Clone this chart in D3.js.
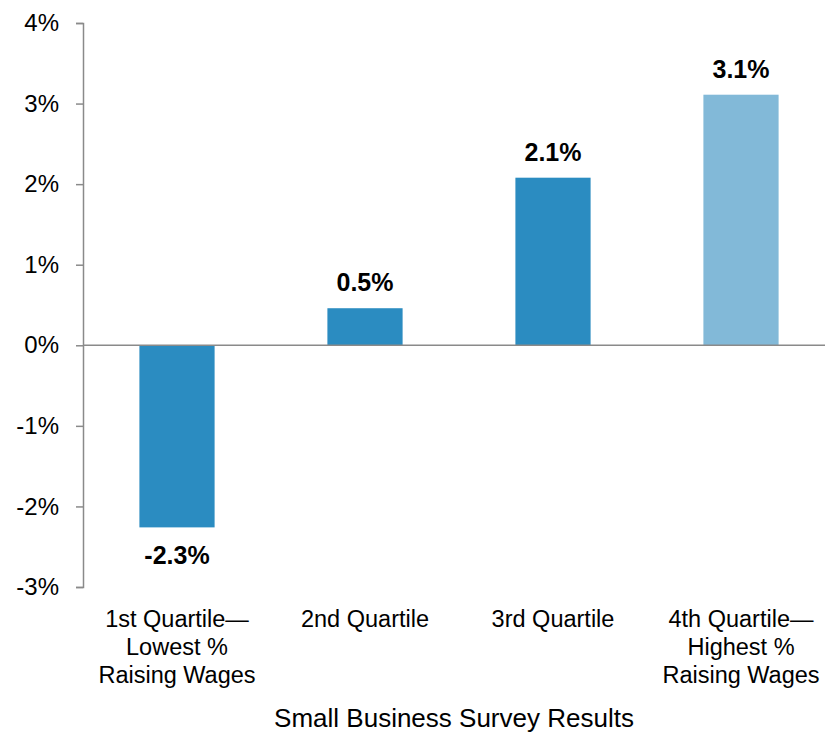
<!DOCTYPE html>
<html>
<head>
<meta charset="utf-8">
<script src="https://cdn.jsdelivr.net/npm/d3@7"></script>
<style>
  body { margin: 0; background: #fff; }
  text { font-family: 'Liberation Sans', Arial, sans-serif; fill: #000; }
  .axis path, .axis line { stroke: #8a8a8a; stroke-width: 1.5; }
</style>
</head>
<body>
<div id="chart"></div>
<script>
const width = 825, height = 734;

// data
const categories = ['q1', 'q2', 'q3', 'q4'];
const categoryLabels = [
    ['1st Quartile\u2014', 'Lowest %', 'Raising Wages'],
    ['2nd Quartile'],
    ['3rd Quartile'],
    ['4th Quartile\u2014', 'Highest %', 'Raising Wages']
];
const values = [-2.26, 0.46, 2.08, 3.11];
const barColors = ['#2b8cc1', '#2b8cc1', '#2b8cc1', '#82b9d8'];
const yTicks = [-3, -2, -1, 0, 1, 2, 3, 4];
const xTitle = 'Small Business Survey Results';

const axisX = 83;
const xScale = d3.scaleBand().domain(categories).range([83, 835])
    .paddingInner(0.6).paddingOuter(0.3);
const yScale = d3.scaleLinear().domain([-3, 4]).range([587, 23]);

const svg = d3.select('#chart').append('svg')
    .attr('width', width)
    .attr('height', height);

// bars
svg.append('g').selectAll('rect')
    .data(values)
    .enter().append('rect')
    .attr('x', (d, i) => xScale(categories[i]))
    .attr('width', xScale.bandwidth())
    .attr('y', d => yScale(Math.max(0, d)))
    .attr('height', d => Math.abs(yScale(d) - yScale(0)))
    .style('fill', (d, i) => barColors[i]);

// zero line
svg.append('line')
    .attr('x1', axisX).attr('x2', width)
    .attr('y1', yScale(0)).attr('y2', yScale(0))
    .style('stroke', '#8a8a8a')
    .style('stroke-width', 1.5);

// y axis
const yAxis = svg.append('g')
    .attr('class', 'axis')
    .attr('transform', `translate(${axisX},0)`)
    .call(d3.axisLeft(yScale).tickValues(yTicks)
        .tickFormat(d => d + '%').tickSize(7).tickSizeOuter(7).tickPadding(17));
yAxis.selectAll('text')
    .style('font-size', '24px')
    .style('fill', '#000');
yAxis.select('.domain').style('fill', 'none');

// value labels
svg.append('g').selectAll('text')
    .data(values)
    .enter().append('text')
    .attr('x', (d, i) => xScale(categories[i]) + xScale.bandwidth() / 2)
    .attr('y', d => d >= 0 ? yScale(d) - 17 : yScale(d) + 37)
    .attr('text-anchor', 'middle')
    .style('font-size', '25px')
    .style('font-weight', 'bold')
    .text(d => d.toFixed(1) + '%');

// category labels
const catGroup = svg.append('g');
categoryLabels.forEach((lines, i) => {
    const t = catGroup.append('text')
        .attr('text-anchor', 'middle')
        .style('font-size', '23.5px');
    lines.forEach((line, j) => {
        t.append('tspan')
            .attr('x', xScale(categories[i]) + xScale.bandwidth() / 2)
            .attr('y', 627 + j * 28)
            .text(line);
    });
});

// axis title
svg.append('text')
    .attr('x', (axisX + width) / 2)
    .attr('y', 727)
    .attr('text-anchor', 'middle')
    .style('font-size', '26px')
    .text(xTitle);
</script>
</body>
</html>
